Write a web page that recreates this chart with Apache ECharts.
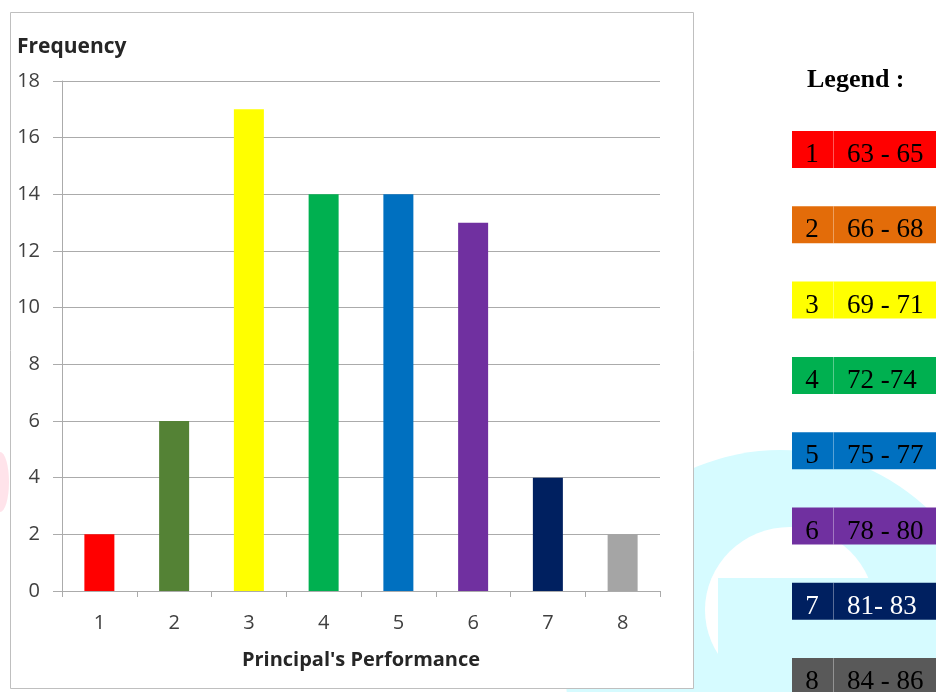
<!DOCTYPE html>
<html>
<head>
<meta charset="utf-8">
<script src="https://cdn.jsdelivr.net/npm/echarts@6/dist/echarts.min.js"></script>
<style>
html,body{margin:0;padding:0;background:#fff;}
#chart{width:936px;height:692px;}
</style>
</head>
<body>
<div id="chart"></div>
<script>
// ---- data ----
const categories = ['1', '2', '3', '4', '5', '6', '7', '8'];
const frequencies = [2, 6, 17, 14, 14, 13, 4, 2];
const barColors = ['#FF0000', '#548235', '#FFFF00', '#00B050', '#0070C0', '#7030A0', '#002060', '#A5A5A5'];
const yTicks = { min: 0, max: 18, interval: 2 };
const legendNums = ['1', '2', '3', '4', '5', '6', '7', '8'];
const legendRanges = ['63 - 65', '66 - 68', '69 - 71', '72 -74', '75 - 77', '78 - 80', '81- 83', '84 - 86'];
const legendColors = ['#FF0000', '#E36C09', '#FFFF00', '#00B050', '#0070C0', '#7030A0', '#002060', '#595959'];
const legendTextColors = ['#000', '#000', '#000', '#000', '#000', '#000', '#fff', '#000'];
const yAxisTitle = 'Frequency';
const xAxisTitle = "Principal's Performance";
const legendTitle = 'Legend :';

// ---- chart ----
const chart = echarts.init(document.getElementById('chart'), null, { renderer: 'canvas' });
const serif = '"Liberation Serif", "DejaVu Serif", serif';
const sans = '"Open Sans", "Liberation Sans", sans-serif';
const gridColor = '#ABABAB';
const wm = '#D6FBFF';

const graphics = [
  // faint watermark shapes
  { type: 'circle', z: -30, shape: { cx: 780, cy: 665, r: 215 }, style: { fill: wm } },
  { type: 'circle', z: -29, shape: { cx: 0, cy: 0, r: 84 }, x: 790, y: 610, scaleX: 85 / 84, scaleY: 83 / 84, style: { fill: '#FFFFFF' } },
  { type: 'rect', z: -28, shape: { x: 718, y: 578, width: 230, height: 120 }, style: { fill: wm } },
  { type: 'circle', z: -29, shape: { cx: 0, cy: 0, r: 30 }, x: 0, y: 482, scaleX: 0.3, style: { fill: '#FFE3EA' } },
  // chart frame
  { type: 'rect', z: -20, shape: { x: 10.5, y: 12.5, width: 683, height: 676 }, style: { fill: '#FFFFFF', stroke: '#BFBFBF', lineWidth: 1 } },
  { type: 'text', z: 10, style: { text: yAxisTitle, x: 17, y: 47, font: 'bold 21px ' + sans, fill: '#262626', textVerticalAlign: 'middle' } },
  { type: 'text', z: 10, style: { text: legendTitle, x: 807, y: 80, font: 'bold 26px ' + serif, fill: '#000', textVerticalAlign: 'middle' } }
];

legendNums.forEach((n, i) => {
  const top = 131 + i * 75.3;
  graphics.push({ type: 'rect', z: 10, shape: { x: 792, y: top, width: 150, height: 37 }, style: { fill: legendColors[i] } });
  graphics.push({ type: 'line', z: 11, shape: { x1: 833.5, y1: top, x2: 833.5, y2: top + 37 }, style: { stroke: 'rgba(255,255,255,0.35)', lineWidth: 1 } });
  graphics.push({ type: 'text', z: 12, style: { text: n, x: 812, y: top + 24, font: '27px ' + serif, fill: legendTextColors[i], textAlign: 'center', textVerticalAlign: 'middle' } });
  graphics.push({ type: 'text', z: 12, style: { text: legendRanges[i], x: 847, y: top + 24, font: '27px ' + serif, fill: legendTextColors[i], textAlign: 'left', textVerticalAlign: 'middle' } });
});

chart.setOption({
  animation: false,
  backgroundColor: '#FFFFFF',
  graphic: graphics,
  grid: { left: 62, right: 276, top: 81, bottom: 101, containLabel: false },
  xAxis: {
    type: 'category',
    data: categories,
    boundaryGap: true,
    name: xAxisTitle,
    nameLocation: 'middle',
    nameGap: 59,
    nameTextStyle: { fontFamily: sans, fontWeight: 'bold', fontSize: 20, color: '#262626' },
    axisLine: { show: true, lineStyle: { color: gridColor, width: 1 } },
    axisTick: { show: true, length: 6, interval: 0, alignWithLabel: false, lineStyle: { color: gridColor } },
    axisLabel: { margin: 22, fontFamily: sans, fontSize: 20, color: '#404040' },
    splitLine: { show: false }
  },
  yAxis: {
    type: 'value',
    min: yTicks.min,
    max: yTicks.max,
    interval: yTicks.interval,
    axisLine: { show: true, lineStyle: { color: gridColor, width: 1 } },
    axisTick: { show: true, length: 9, lineStyle: { color: gridColor } },
    axisLabel: { margin: 22, fontFamily: sans, fontSize: 20, color: '#404040' },
    splitLine: { show: true, lineStyle: { color: gridColor, width: 1 } }
  },
  series: [{
    type: 'bar',
    barWidth: 30,
    data: frequencies.map((v, i) => ({ value: v, itemStyle: { color: barColors[i] } }))
  }]
});
</script>
</body>
</html>
